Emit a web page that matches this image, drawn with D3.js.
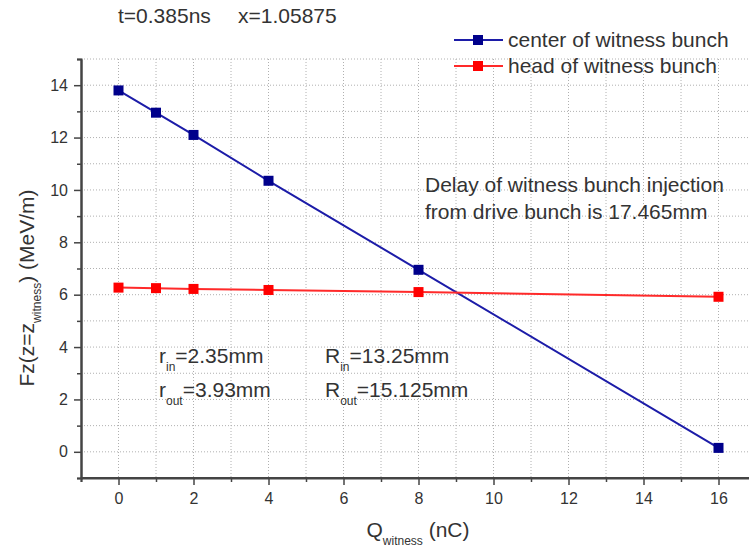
<!DOCTYPE html>
<html>
<head>
<script src="https://d3js.org/d3.v7.min.js"></script>
<style>
  body { margin: 0; background: #fff; }
  text { font-family: "Liberation Sans", Arial, sans-serif; fill: #333; }
</style>
</head>
<body>
<svg width="749" height="550"></svg>
<script>
  // data
  var charge = [0, 1, 2, 4, 8, 16];
  var centerFz = [13.8, 12.95, 12.1, 10.35, 6.95, 0.15];
  var headFz = [6.27, 6.25, 6.22, 6.18, 6.1, 5.92];
  var seriesNames = ["center of witness bunch", "head of witness bunch"];
  var xTicks = [0, 2, 4, 6, 8, 10, 12, 14, 16];
  var yTicks = [0, 2, 4, 6, 8, 10, 12, 14];

  var svg = d3.select("svg");

  var x = d3.scaleLinear().domain([-1, 17]).range([81, 756]);
  var y = d3.scaleLinear().domain([-1, 15]).range([478, 59]);

  // dotted grid at every integer
  var grid = svg.append("g");
  grid.selectAll("line.v")
      .data(d3.range(0, 18))
      .enter().append("line")
      .attr("x1", function(d) { return x(d); })
      .attr("x2", function(d) { return x(d); })
      .attr("y1", y(15)).attr("y2", y(-1))
      .attr("stroke", "#b0b0b0")
      .attr("stroke-dasharray", "1,2");
  grid.selectAll("line.h")
      .data(d3.range(0, 16))
      .enter().append("line")
      .attr("x1", x(-1)).attr("x2", 749)
      .attr("y1", function(d) { return y(d); })
      .attr("y2", function(d) { return y(d); })
      .attr("stroke", "#b0b0b0")
      .attr("stroke-dasharray", "1,2");

  // axes
  var xAxis = svg.append("g").attr("transform", "translate(0," + y(-1) + ")");
  xAxis.call(d3.axisBottom(x).tickValues(xTicks).tickSize(7).tickPadding(8).tickSizeOuter(0));
  xAxis.append("g").call(d3.axisBottom(x).tickValues(d3.range(-1, 18, 2)).tickSize(4).tickFormat(""));
  var yAxis = svg.append("g").attr("transform", "translate(" + x(-1) + ",0)");
  yAxis.call(d3.axisLeft(y).tickValues(yTicks).tickSize(7).tickPadding(6).tickSizeOuter(0));
  yAxis.append("g").call(d3.axisLeft(y).tickValues(d3.range(-1, 16, 2)).tickSize(4).tickFormat(""));

  svg.selectAll(".domain").attr("stroke", "#444").attr("stroke-width", 2);
  svg.selectAll(".tick line").attr("stroke", "#444").attr("stroke-width", 1.5);
  svg.selectAll(".tick text").style("font-size", "16px").attr("fill", "#333");
  xAxis.select(".domain").attr("d", "M" + x(-1) + ",0H749");

  // series
  var lineGen = d3.line()
      .x(function(d, i) { return x(charge[i]); })
      .y(function(d) { return y(d); });

  var series = [
    { name: seriesNames[0], values: centerFz, line: "#1c1ca8", mark: "#00008b" },
    { name: seriesNames[1], values: headFz, line: "#ff2a2a", mark: "#ff0000" }
  ];

  series.forEach(function(s) {
    svg.append("path")
       .attr("d", lineGen(s.values))
       .attr("fill", "none")
       .attr("stroke", s.line)
       .attr("stroke-width", 2);
    svg.selectAll(null)
       .data(s.values)
       .enter().append("rect")
       .attr("x", function(d, i) { return x(charge[i]) - 5; })
       .attr("y", function(d) { return y(d) - 5; })
       .attr("width", 10).attr("height", 10)
       .attr("fill", s.mark);
  });

  // legend
  var legend = svg.append("g");
  series.forEach(function(s, i) {
    var ly = 40 + i * 26;
    legend.append("line")
          .attr("x1", 454).attr("x2", 503).attr("y1", ly).attr("y2", ly)
          .attr("stroke", s.line).attr("stroke-width", 2);
    legend.append("rect")
          .attr("x", 473).attr("y", ly - 5).attr("width", 10).attr("height", 10)
          .attr("fill", s.mark);
    legend.append("text")
          .attr("x", 508).attr("y", ly + 7)
          .style("font-size", "21px")
          .text(s.name);
  });

  // titles and notes
  svg.append("text").attr("x", 118).attr("y", 23).style("font-size", "21px")
     .text("t=0.385ns");
  svg.append("text").attr("x", 238).attr("y", 23).style("font-size", "21px")
     .text("x=1.05875");
  svg.append("text").attr("x", 425).attr("y", 192).style("font-size", "21px")
     .text("Delay of witness bunch injection");
  svg.append("text").attr("x", 425).attr("y", 219).style("font-size", "21px")
     .text("from drive bunch is 17.465mm");

  function subText(px, py, main, sub, rest) {
    var t = svg.append("text").attr("x", px).attr("y", py).style("font-size", "21px");
    t.append("tspan").text(main);
    t.append("tspan").attr("dy", 8).style("font-size", "12px").text(sub);
    t.append("tspan").attr("dy", -8).text(rest);
  }
  subText(159, 363, "r", "in", "=2.35mm");
  subText(159, 397, "r", "out", "=3.93mm");
  subText(325, 363, "R", "in", "=13.25mm");
  subText(325, 397, "R", "out", "=15.125mm");

  var xt = svg.append("text").attr("x", 418).attr("y", 537)
     .attr("text-anchor", "middle").style("font-size", "21px");
  xt.append("tspan").text("Q");
  xt.append("tspan").attr("dy", 8).style("font-size", "12px").text("witness");
  xt.append("tspan").attr("dy", -8).text(" (nC)");

  var yt = svg.append("text")
     .attr("transform", "translate(34,288) rotate(-90)")
     .attr("text-anchor", "middle").style("font-size", "21px");
  yt.append("tspan").text("Fz(z=z");
  yt.append("tspan").attr("dy", 7).style("font-size", "12px").text("witness");
  yt.append("tspan").attr("dy", -7).text(") (MeV/m)");
</script>
</body>
</html>
